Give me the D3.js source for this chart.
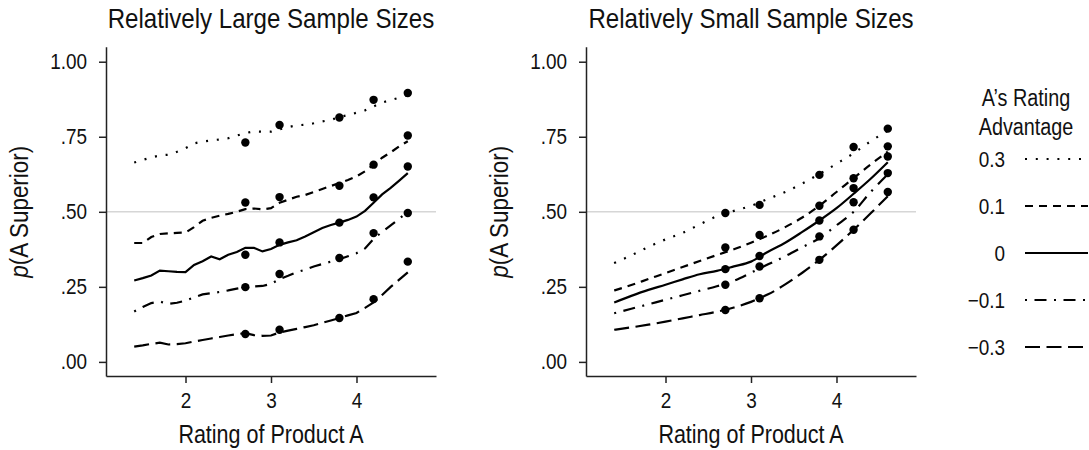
<!DOCTYPE html>
<html><head><meta charset="utf-8">
<script src="https://cdn.jsdelivr.net/npm/d3@7"></script>
<style>
body{margin:0;background:#fff}
svg{display:block}
text{font-family:"Liberation Sans Narrow","Arial Narrow","Liberation Sans",Arial,sans-serif;fill:#111}
</style>
</head><body>
<svg id="chart" width="1089" height="450"></svg>
<script>
// ---------- data ----------
const advantageLabels = ["0.3", "0.1", "0", "\u22120.1", "\u22120.3"];
const yTickValues = [0, 0.25, 0.5, 0.75, 1];
const yTickLabels = [".00", ".25", ".50", ".75", "1.00"];
const xTickValues = [2, 3, 4];
const panelTitles = ["Relatively Large Sample Sizes", "Relatively Small Sample Sizes"];

// Large sample panel: model curves
const xLarge = [1.4,1.5,1.6,1.7,1.8,1.9,2.0,2.1,2.2,2.3,2.4,2.5,2.6,2.7,2.8,2.9,3.0,3.1,3.2,3.3,3.4,3.5,3.6,3.7,3.8,3.9,4.0,4.1,4.2,4.3,4.4,4.5,4.6];
const largeP03 = [0.664,0.673,0.681,0.688,0.690,0.700,0.712,0.728,0.734,0.738,0.741,0.745,0.754,0.762,0.768,0.767,0.767,0.775,0.782,0.788,0.790,0.795,0.801,0.806,0.816,0.822,0.830,0.838,0.851,0.864,0.872,0.880,0.890];
const largeP01 = [0.396,0.396,0.416,0.426,0.428,0.430,0.431,0.449,0.470,0.480,0.487,0.493,0.500,0.509,0.511,0.508,0.512,0.530,0.540,0.550,0.556,0.566,0.576,0.586,0.596,0.606,0.618,0.635,0.657,0.680,0.698,0.718,0.735];
const largeZ   = [0.271,0.279,0.288,0.304,0.302,0.300,0.299,0.323,0.335,0.351,0.342,0.357,0.366,0.380,0.380,0.368,0.376,0.390,0.398,0.405,0.418,0.432,0.446,0.456,0.464,0.473,0.484,0.503,0.530,0.558,0.580,0.604,0.629];
const largeM01 = [0.168,0.183,0.196,0.201,0.193,0.197,0.204,0.215,0.225,0.229,0.233,0.238,0.244,0.249,0.251,0.253,0.260,0.276,0.287,0.299,0.307,0.318,0.326,0.334,0.342,0.352,0.362,0.378,0.410,0.433,0.455,0.477,0.500];
const largeM03 = [0.051,0.055,0.060,0.064,0.058,0.059,0.062,0.068,0.073,0.078,0.083,0.088,0.092,0.096,0.089,0.087,0.088,0.098,0.104,0.110,0.116,0.122,0.130,0.138,0.146,0.155,0.163,0.180,0.198,0.223,0.250,0.274,0.298];

// Small sample panel: model curves
const xSmall = [1.4,1.6,1.8,2.0,2.2,2.4,2.6,2.8,3.0,3.2,3.4,3.6,3.8,4.0,4.2,4.4,4.6];
const smallP03 = [0.329,0.355,0.383,0.408,0.430,0.458,0.485,0.503,0.520,0.543,0.566,0.594,0.626,0.660,0.695,0.735,0.770];
const smallP01 = [0.238,0.256,0.276,0.296,0.316,0.336,0.356,0.375,0.397,0.421,0.449,0.481,0.520,0.566,0.612,0.658,0.700];
const smallZ   = [0.198,0.220,0.240,0.257,0.275,0.292,0.303,0.318,0.334,0.367,0.397,0.433,0.471,0.512,0.560,0.610,0.665];
const smallM01 = [0.162,0.177,0.192,0.207,0.222,0.237,0.252,0.270,0.297,0.325,0.352,0.382,0.412,0.455,0.500,0.566,0.625];
const smallM03 = [0.107,0.115,0.124,0.134,0.145,0.156,0.167,0.181,0.200,0.225,0.258,0.297,0.340,0.388,0.440,0.495,0.552];

// Observed points
const xObs = [2.7, 3.1, 3.8, 4.2, 4.6];
const obsLargeP03 = [0.731,0.789,0.814,0.873,0.896];
const obsLargeP01 = [0.531,0.549,0.587,0.657,0.754];
const obsLargeZ   = [0.357,0.398,0.464,0.548,0.651];
const obsLargeM01 = [0.249,0.293,0.346,0.429,0.496];
const obsLargeM03 = [0.093,0.107,0.146,0.209,0.334];
const obsSmallP03 = [0.496,0.523,0.623,0.716,0.777];
const obsSmallP01 = [0.381,0.423,0.520,0.612,0.718];
const obsSmallZ   = [0.309,0.353,0.471,0.579,0.684];
const obsSmallM01 = [0.257,0.318,0.418,0.532,0.629];
const obsSmallM03 = [0.173,0.212,0.340,0.440,0.566];

// ---------- styles ----------
const dashes = ["2,8.8", "8,6", null, "2,7.5,12,7.5", "15,6.5"];
const condense = 0.86;

const svg = d3.select("#chart");
const W = 330, H = 329.3, panelTop = 46.7;
const x = d3.scaleLinear().domain([1.07, 4.93]).range([0, W]);
const y = d3.scaleLinear().domain([-0.047, 1.05]).range([H, 0]);

function drawPanel(left, title, xs, curves, obs, curveType) {
  const g = svg.append("g").attr("transform", `translate(${left},${panelTop})`);
  g.append("line").attr("x1", 0).attr("x2", W).attr("y1", y(0.5)).attr("y2", y(0.5))
    .attr("stroke", "#d6d6d6").attr("stroke-width", 1.5);

  const ya = g.append("g").call(d3.axisLeft(y).tickValues(yTickValues)
      .tickFormat((d, i) => yTickLabels[i]).tickSize(7).tickPadding(12).tickSizeOuter(0));
  const xa = g.append("g").attr("transform", `translate(0,${H})`).call(d3.axisBottom(x)
      .tickValues(xTickValues).tickFormat(d3.format("d")).tickSize(7).tickPadding(9).tickSizeOuter(0));
  [ya, xa].forEach(a => {
    a.selectAll("path,line").attr("stroke", "#222").attr("stroke-width", 1.5);
    a.selectAll("text").attr("font-size", 22).attr("fill", "#111")
      .style("font-family", '"Liberation Sans Narrow","Arial Narrow","Liberation Sans",Arial,sans-serif');
  });

  const line = d3.line().x((d, i) => x(xs[i])).y(d => y(d)).curve(curveType);
  curves.forEach((c, k) => {
    g.append("path").attr("d", line(c)).attr("fill", "none").attr("stroke", "#000")
      .attr("stroke-width", 2.2).attr("stroke-dasharray", dashes[k]);
  });
  obs.forEach(o => {
    g.selectAll(null).data(o).enter().append("circle")
      .attr("cx", (d, i) => x(xObs[i])).attr("cy", d => y(d)).attr("r", 4.2).attr("fill", "#000");
  });

  svg.append("text").attr("x", left + W / 2).attr("y", 28).attr("text-anchor", "middle")
    .attr("font-size", 28).text(title);
  svg.append("text").attr("x", left + W / 2).attr("y", 443).attr("text-anchor", "middle")
    .attr("font-size", 25).text("Rating of Product A");
  const yl = svg.append("text").attr("transform", `translate(${left - 78},${panelTop + y(0.5)}) rotate(-90)`)
    .attr("text-anchor", "middle").attr("font-size", 26);
  yl.append("tspan").attr("font-style", "italic").text("p");
  yl.append("tspan").text("(A Superior)");
}

drawPanel(106, panelTitles[0], xLarge, [largeP03, largeP01, largeZ, largeM01, largeM03],
  [obsLargeP03, obsLargeP01, obsLargeZ, obsLargeM01, obsLargeM03], d3.curveLinear);
drawPanel(586, panelTitles[1], xSmall, [smallP03, smallP01, smallZ, smallM01, smallM03],
  [obsSmallP03, obsSmallP01, obsSmallZ, obsSmallM01, obsSmallM03], d3.curveMonotoneX);

// legend
const lg = svg.append("g");
lg.append("text").attr("x", 1026).attr("y", 106).attr("text-anchor", "middle").attr("font-size", 23).text("A\u2019s Rating");
lg.append("text").attr("x", 1026).attr("y", 135).attr("text-anchor", "middle").attr("font-size", 23).text("Advantage");
const rowY = d3.scalePoint().domain(advantageLabels).range([159, 347]);
advantageLabels.forEach((lab, k) => {
  const cy = rowY(lab);
  lg.append("text").attr("x", 1005).attr("y", cy + 8).attr("text-anchor", "end").attr("font-size", 22).text(lab);
  lg.append("line").attr("x1", 1025).attr("x2", 1088).attr("y1", cy).attr("y2", cy)
    .attr("stroke", "#000").attr("stroke-width", 2.2).attr("stroke-dasharray", dashes[k]);
});

// condense glyphs to mimic a narrow Helvetica
svg.selectAll("text").each(function () {
  const L = this.getComputedTextLength();
  d3.select(this).attr("textLength", L * condense).attr("lengthAdjust", "spacingAndGlyphs");
});
</script>
</body></html>
